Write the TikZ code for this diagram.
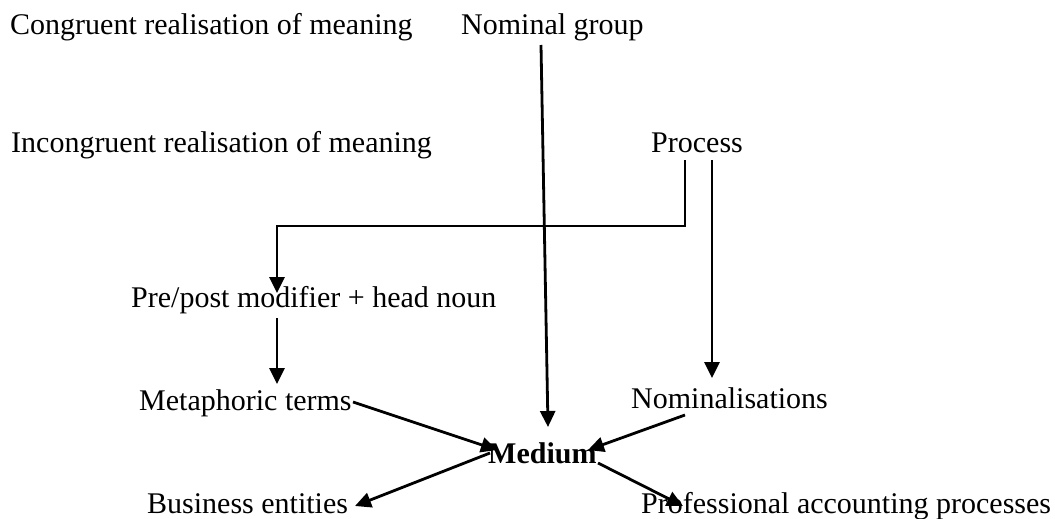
\documentclass[tikz,border=0pt]{standalone}
\usepackage{fontspec}
\setmainfont{Liberation Serif}
\usetikzlibrary{arrows.meta,calc}
\begin{document}
\begin{tikzpicture}[x=1pt,y=-1pt,
  lbl/.style={anchor=base west,inner sep=0pt,font=\fontsize{30}{34}\selectfont},
  conn/.style={line width=2.8pt,-{Triangle[length=16pt,width=15pt]}}]
\useasboundingbox (0,0) rectangle (1055,519);
\node[lbl] (cong) at (10,35) {Congruent realisation of meaning};
\node[lbl] (ng) at (461,35) {Nominal group};
\node[lbl] (incong) at (11,152) {Incongruent realisation of meaning};
\node[lbl] (proc) at (651,152) {Process};
\node[lbl] (pre) at (131,307) {Pre/post modifier + head noun};
\node[lbl] (meta) at (139,410) {Metaphoric terms};
\node[lbl] (nom) at (631,408) {Nominalisations};
\node[lbl,font=\fontsize{30}{34}\selectfont\bfseries] (med) at (488,463) {Medium};
\node[lbl] (bus) at (147,513) {Business entities};
\node[lbl] (prof) at (641,513) {Professional accounting processes};
% connectors
\draw[conn] ($(ng.base west)+(80,10)$) -- ($(med.base west)+(60,-36)$);
\draw[conn] ($(proc.base west)+(34,8)$) -- ($(proc.base west)+(34,74)$)
   -| ($(pre.base west)+(146,-14)$);
\draw[conn] ($(proc.base west)+(61,8)$) -- ($(nom.base west)+(81,-30)$);
\draw[conn] ($(pre.base west)+(146,11)$) -- ($(meta.base west)+(138,-26)$);
\draw[conn] ($(meta.base west)+(214,-8)$) -- ($(med.base west)+(9,-13)$);
\draw[conn] ($(nom.base west)+(54,7)$) -- ($(med.base west)+(100,-13)$);
\draw[conn] ($(med.base west)+(2,-10)$) -- ($(bus.base west)+(208,-7)$);
\draw[conn] ($(med.base west)+(110,0)$) -- ($(prof.base west)+(42,-7)$);
\end{tikzpicture}
\end{document}
